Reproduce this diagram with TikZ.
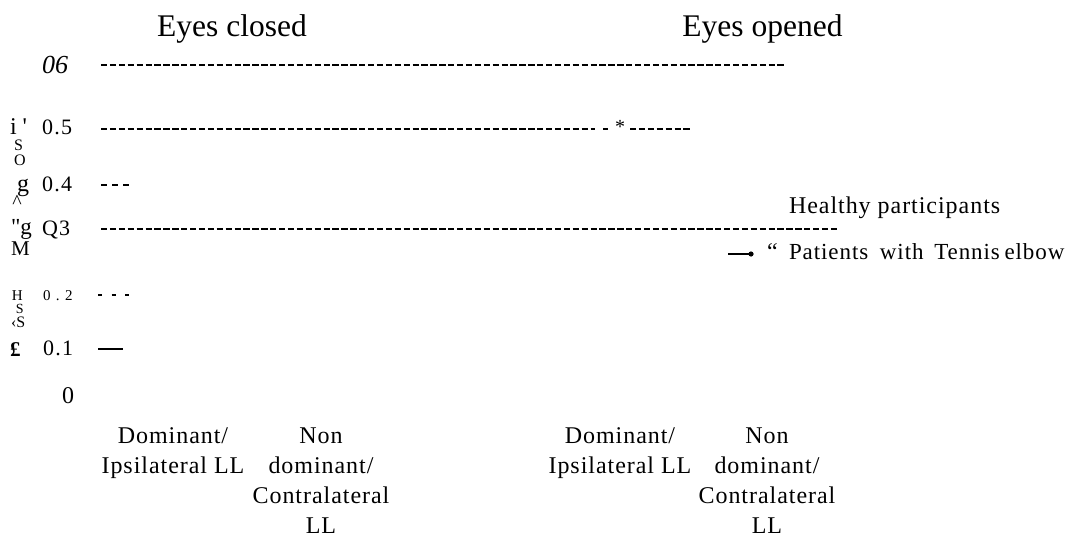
\documentclass[tikz,border=0pt]{standalone}
\usepackage{fontspec}
\setmainfont{Liberation Serif}
\newfontfamily\lsp[LetterSpace=4]{Liberation Serif}
\newfontfamily\numsp[LetterSpace=6]{Liberation Serif}
\begin{document}
\begin{tikzpicture}[x=1pt,y=-1pt,
  every node/.style={inner sep=0pt,outer sep=0pt},
  title/.style={font=\fontsize{31.5}{36}\selectfont},
  body/.style={font=\lsp\fontsize{24}{30}\selectfont},
  num/.style={font=\numsp\fontsize{22}{26}\selectfont},
  lab/.style={font=\fontsize{#1}{#1}\selectfont},
  tight/.style={text depth=0pt},
  dl/.style={line width=1.6pt,dash pattern=on 6.3pt off 2.6pt},
]
\useasboundingbox (0,0) rectangle (1076,538);

% titles
\node[title,anchor=base] (tclosed) at (232,36) {Eyes closed};
\node[title,anchor=base] (topened) at (762.5,36) {Eyes opened};

% y-axis numbers
\node[anchor=base west,font=\fontsize{26}{30}\selectfont\itshape] (n06) at (42,73) {06};
\node[num,anchor=base west] (n05) at (42,134) {0.5};
\node[num,anchor=base west] (n04) at (42,191) {0.4};
\node[num,anchor=base west] (n03) at (42,235) {Q3};
\node[anchor=base west,font=\fontsize{15}{18}\selectfont] (n02) at (43,300) {0\hspace{5.4pt}.\hspace{5.4pt}2};
\node[num,anchor=base west] (n01) at (43,355) {0.1};
\node[anchor=base west,font=\fontsize{24}{28}\selectfont] (n00) at (62,403) {0};

% garbled axis title characters
\node[lab=24,anchor=base west] (ya) at (10,134) {i \textquotesingle};
\node[lab=16,anchor=base west,tight] (yb) at (14,150) {S};
\node[lab=16,anchor=base west,tight] (yc) at (14,165) {O};
\node[lab=24,anchor=base west,tight] (yd) at (17,191) {g};
\node[lab=20] (ye) at (17,202) {\textasciicircum};
\node[lab=23,anchor=base west,tight] (yf) at (11,234) {\textquotedbl g};
\node[lab=21,anchor=base west] (yg) at (11,255) {M};
\node[lab=15,anchor=base west,tight] (yh) at (12,300) {H};
\node[lab=14,anchor=base west,tight] (yi) at (16,313) {S};
\node[lab=16,anchor=base west,tight] (yj) at (11,327) {‹S};
\node[font=\fontsize{21}{24}\selectfont\bfseries,anchor=base west] (yk) at (10,356) {£};

% dashed rows
\coordinate (a1) at (101,65);  \coordinate (a2) at (786,65);
\draw[dl] (a1) -- (a2);
\coordinate (b1) at (101,129); \coordinate (b2) at (595,129);
\draw[dl] (b1) -- (b2);
\coordinate (b3) at (603,129); \coordinate (b4) at (608,129);
\draw[line width=1.6pt] (b3) -- (b4);
\node[lab=20] (star) at (620,127) {*};
\coordinate (b5) at (630,129); \coordinate (b6) at (692,129);
\draw[dl] (b5) -- (b6);
\coordinate (c1) at (101,185); \coordinate (c2) at (130,185);
\draw[line width=1.6pt,dash pattern=on 6pt off 5pt] (c1) -- (c2);
\coordinate (d1) at (101,229); \coordinate (d2) at (838,229);
\draw[dl] (d1) -- (d2);
\coordinate (e1) at (98,295); \coordinate (e2) at (129,295);
\draw[line width=1.2pt,dash pattern=on 4pt off 9.5pt] (e1) -- (e2);
\coordinate (f1) at (98,349); \coordinate (f2) at (123,349);
\draw[line width=1.2pt] (f1) -- (f2);

% legend
\node[body,anchor=base west] (lh) at (789,213) {Healthy participants};
\coordinate (m1) at (728,254); \coordinate (m2) at (751,254);
\draw[line width=1.4pt] (m1) -- (m2);
\fill (m2) circle (2.6pt);
\node[body,anchor=base west] (lq) at (767,259) {“};
\node[font=\lsp\fontsize{23}{28}\selectfont,anchor=base west] (lp) at (789,259) {Patients\ \hspace{5pt}with\ \hspace{4pt}Tennis\hspace{-2pt} elbow};

% category labels
\node[body,anchor=base] (c1a) at (173,443) {Dominant/};
\node[body,anchor=base] (c1b) at (173,473) {Ipsilateral LL};
\node[body,anchor=base] (c2a) at (321,443) {Non};
\node[body,anchor=base] (c2b) at (321,473) {dominant/};
\node[body,anchor=base] (c2c) at (321,503) {Contralateral};
\node[body,anchor=base] (c2d) at (321,533) {LL};
\node[body,anchor=base] (c3a) at (620,443) {Dominant/};
\node[body,anchor=base] (c3b) at (620,473) {Ipsilateral LL};
\node[body,anchor=base] (c4a) at (767,443) {Non};
\node[body,anchor=base] (c4b) at (767,473) {dominant/};
\node[body,anchor=base] (c4c) at (767,503) {Contralateral};
\node[body,anchor=base] (c4d) at (767,533) {LL};
\end{tikzpicture}
\end{document}
